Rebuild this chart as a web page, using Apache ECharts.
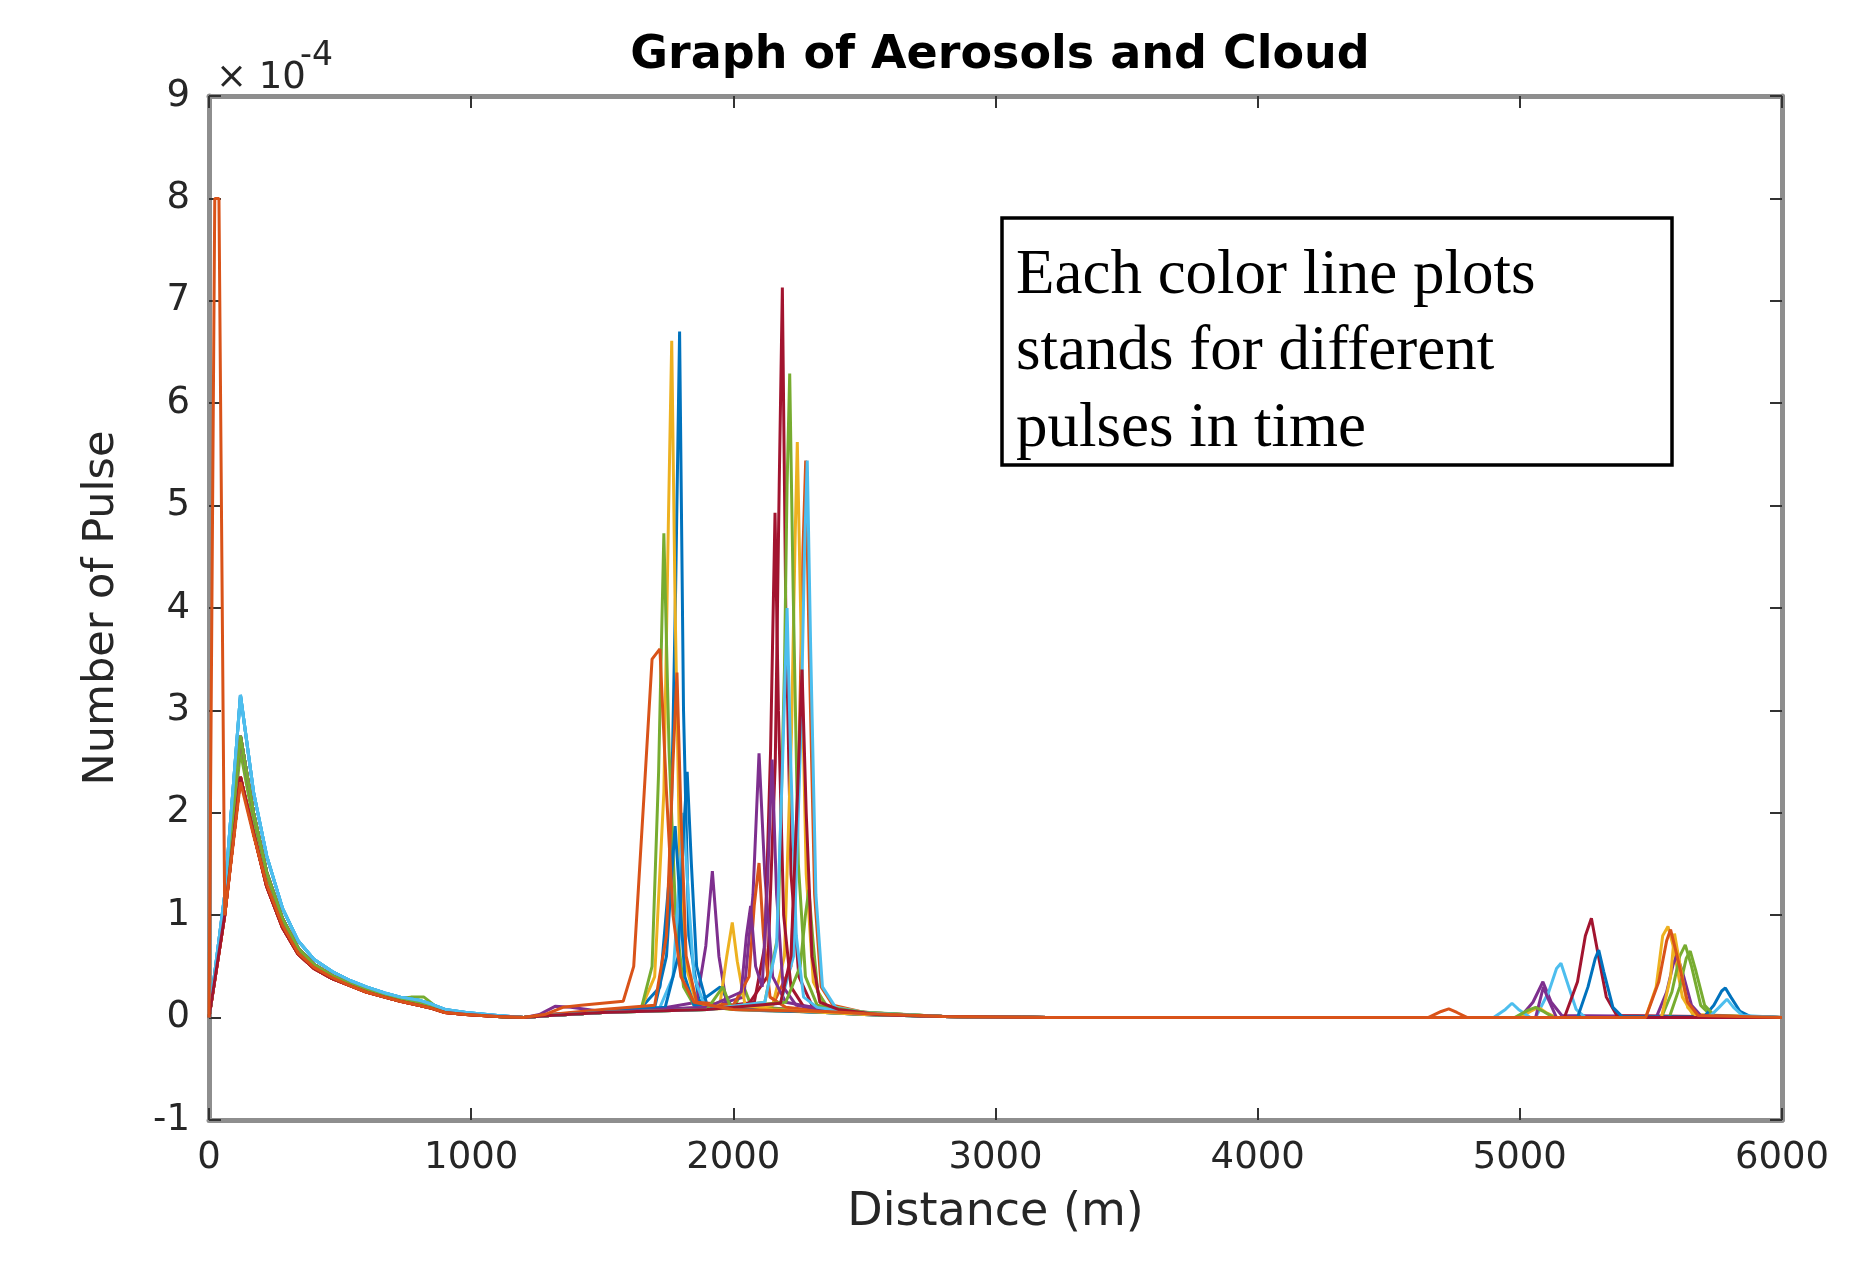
<!DOCTYPE html>
<html>
<head>
<meta charset="utf-8">
<title>Graph of Aerosols and Cloud</title>
<script src="https://cdn.jsdelivr.net/npm/echarts@6/dist/echarts.min.js"></script>
<style>
  html, body { margin: 0; padding: 0; background: #fff; }
  #chart { width: 1867px; height: 1268px; }
</style>
</head>
<body>
<div id="chart"></div>
<script>
// values are in units of 1e-4, distances in metres

// near range profiles (0 - 1200 m)
const nearHigh = [[0,0],[60,1.2],[120,3.15],[170,2.2],[220,1.58],[280,1.07],[340,0.75],[400,0.57],[470,0.45],[540,0.36],[600,0.3],[670,0.24],[730,0.2],[800,0.17],[850,0.13],[900,0.08],[980,0.05],[1100,0.02],[1200,0]];
const nearMid = [[0,0],[60,1.1],[120,2.75],[170,2.0],[220,1.42],[280,0.97],[340,0.68],[400,0.52],[470,0.41],[540,0.33],[600,0.27],[670,0.22],[730,0.18],[800,0.14],[850,0.11],[900,0.07],[980,0.04],[1100,0.01],[1200,0]];
const nearLow = [[0,0],[60,1.0],[120,2.35],[170,1.8],[220,1.28],[280,0.88],[340,0.62],[400,0.48],[470,0.38],[540,0.31],[600,0.25],[670,0.2],[730,0.16],[800,0.12],[850,0.09],[900,0.05],[980,0.03],[1100,0.01],[1200,0]];
const nearBump = [[0,0],[60,1.1],[120,2.6],[170,1.9],[220,1.38],[280,0.94],[340,0.66],[400,0.5],[470,0.4],[540,0.32],[600,0.26],[670,0.22],[730,0.19],[770,0.2],[820,0.2],[870,0.1],[920,0.06],[1000,0.03],[1100,0.01],[1200,0]];
const nearSpike = [[0,0],[22,8.0],[38,8.0],[60,1.0],[120,2.3],[170,1.78],[220,1.3],[280,0.9],[340,0.63],[400,0.49],[470,0.39],[540,0.31],[600,0.25],[670,0.2],[730,0.16],[800,0.12],[850,0.09],[900,0.05],[980,0.03],[1100,0.01],[1200,0]];

// cloud and far range part of every pulse (1200 - 6000 m)
const pulse00 = [[1300,0.02],[1500,0.05],[1650,0.1],[1720,0.3],[1760,1.5],[1780,4.2],[1795,6.7],[1810,3.0],[1830,0.8],[1870,0.15],[1950,0.3],[2000,0.08],[2200,0.06],[2350,0.06],[2500,0.04],[2800,0.01],[3200,0],[6000,0]];
const pulse01 = [[1280,0.03],[1350,0.1],[1420,0.12],[1500,0.14],[1580,0.16],[1620,0.5],[1660,2.2],[1690,3.5],[1720,3.6],[1745,2.2],[1770,1.0],[1800,0.4],[1850,0.15],[2000,0.08],[2350,0.06],[2500,0.04],[2800,0.01],[3200,0],[5480,0],[5530,0.35],[5560,0.75],[5575,0.86],[5600,0.6],[5640,0.15],[5680,0.02],[6000,0]];
const pulse02 = [[1300,0.02],[1500,0.05],[1650,0.1],[1700,0.4],[1735,2.2],[1752,4.8],[1765,6.61],[1778,4.0],[1795,1.6],[1820,0.5],[1860,0.12],[2000,0.08],[2350,0.05],[2500,0.03],[2800,0.01],[3200,0],[5480,0],[5520,0.3],[5545,0.8],[5565,0.89],[5585,0.7],[5620,0.2],[5660,0.03],[6000,0]];
const pulse03 = [[1260,0.03],[1320,0.11],[1380,0.1],[1500,0.06],[1700,0.08],[1860,0.15],[1895,0.7],[1920,1.43],[1945,0.6],[1975,0.12],[2100,0.1],[2350,0.06],[2500,0.03],[2800,0.01],[3200,0],[5000,0],[5050,0.15],[5088,0.35],[5120,0.15],[5160,0.02],[6000,0]];
const pulse04 = [[1300,0.02],[1500,0.05],[1650,0.1],[1690,0.5],[1715,2.4],[1735,4.73],[1755,2.6],[1780,1.0],[1810,0.3],[1850,0.12],[2000,0.08],[2040,0.3],[2070,0.1],[2350,0.06],[2500,0.03],[2800,0.01],[3200,0],[5540,0],[5580,0.25],[5610,0.6],[5631,0.71],[5655,0.5],[5690,0.12],[5730,0.02],[6000,0]];
const pulse05 = [[1300,0.02],[1500,0.05],[1720,0.1],[1770,0.4],[1795,1.4],[1810,2.0],[1828,1.2],[1850,0.4],[1890,0.12],[2050,0.08],[2350,0.05],[2500,0.03],[2800,0.01],[3200,0],[5060,0],[5110,0.25],[5140,0.48],[5157,0.53],[5180,0.35],[5215,0.08],[5250,0],[6000,0]];
const pulse06 = [[1300,0.02],[1500,0.05],[1800,0.08],[2050,0.1],[2130,0.4],[2160,2.5],[2175,5.2],[2187,7.13],[2200,4.0],[2220,1.4],[2250,0.4],[2300,0.12],[2400,0.08],[2550,0.04],[2800,0.01],[3200,0],[5170,0],[5220,0.35],[5250,0.8],[5273,0.97],[5300,0.6],[5330,0.2],[5370,0.02],[6000,0]];
const pulse07 = [[1300,0.02],[1500,0.05],[1740,0.1],[1790,0.6],[1810,1.8],[1824,2.4],[1840,1.5],[1860,0.5],[1900,0.12],[2100,0.08],[2350,0.05],[2500,0.03],[2800,0.01],[3200,0],[5700,0],[5740,0.12],[5770,0.26],[5784,0.29],[5805,0.2],[5840,0.06],[5880,0.01],[6000,0]];
const pulse08 = [[1300,0.03],[1500,0.06],[1900,0.09],[2150,0.12],[2220,0.5],[2250,2.5],[2266,4.6],[2276,5.44],[2290,3.5],[2310,1.2],[2335,0.3],[2380,0.12],[2500,0.05],[2800,0.01],[3200,0],[4650,0],[4700,0.06],[4729,0.085],[4760,0.05],[4800,0],[6000,0]];
const pulse09 = [[1300,0.02],[1500,0.05],[1900,0.08],[2150,0.12],[2195,0.6],[2222,2.8],[2235,4.6],[2244,5.62],[2258,3.8],[2278,1.4],[2305,0.35],[2350,0.12],[2500,0.05],[2800,0.01],[3200,0],[5000,0],[5040,0.06],[5070,0.1],[5100,0.05],[5140,0],[6000,0]];
const pulse10 = [[1300,0.03],[1500,0.06],[1900,0.1],[2040,0.2],[2075,1.2],[2098,2.58],[2120,1.4],[2150,0.4],[2200,0.15],[2350,0.08],[2500,0.04],[2800,0.01],[3200,0],[5520,0],[5560,0.25],[5585,0.52],[5599,0.61],[5620,0.45],[5655,0.12],[5690,0.02],[6000,0]];
const pulse11 = [[1300,0.02],[1500,0.05],[1900,0.08],[2120,0.15],[2170,0.8],[2195,3.4],[2205,5.2],[2215,6.29],[2228,4.2],[2248,1.5],[2275,0.4],[2320,0.12],[2450,0.06],[2800,0.01],[3200,0],[5570,0],[5610,0.3],[5635,0.58],[5650,0.65],[5672,0.45],[5705,0.12],[5745,0.01],[6000,0]];
const pulse12 = [[1300,0.02],[1500,0.05],[1900,0.08],[2180,0.14],[2230,0.6],[2258,2.8],[2272,4.6],[2282,5.44],[2295,3.6],[2315,1.2],[2340,0.3],[2390,0.1],[2500,0.05],[2800,0.01],[3200,0],[4900,0],[4945,0.08],[4970,0.14],[4995,0.08],[5040,0],[5720,0],[5760,0.1],[5790,0.18],[5815,0.1],[5850,0.02],[6000,0]];
const pulse13 = [[1300,0.02],[1500,0.05],[1900,0.09],[2080,0.15],[2120,0.7],[2142,2.6],[2159,4.93],[2172,3.0],[2192,1.0],[2220,0.3],[2270,0.1],[2400,0.06],[2550,0.03],[2800,0.01],[3200,0],[6000,0]];
const pulse14 = [[1300,0.02],[1500,0.05],[1700,0.1],[1745,0.6],[1765,1.4],[1778,1.87],[1795,1.2],[1815,0.4],[1850,0.12],[2050,0.08],[2350,0.05],[2500,0.03],[2800,0.01],[3200,0],[5220,0],[5260,0.3],[5288,0.58],[5301,0.66],[5320,0.45],[5355,0.1],[5390,0.01],[6000,0]];
const pulse15 = [[1300,0.03],[1500,0.08],[1700,0.12],[1745,0.8],[1770,2.5],[1785,3.37],[1800,2.0],[1820,0.6],[1860,0.15],[2000,0.12],[2060,0.4],[2080,1.1],[2098,1.51],[2115,0.8],[2140,0.2],[2200,0.1],[2350,0.06],[2500,0.04],[2800,0.01],[3200,0],[6000,0]];
const pulse16 = [[1300,0.02],[1500,0.05],[1850,0.08],[1950,0.15],[1975,0.6],[1996,0.93],[2015,0.55],[2045,0.12],[2150,0.08],[2350,0.05],[2500,0.03],[2800,0.01],[3200,0],[5540,0],[5575,0.4],[5590,0.82],[5605,0.6],[5640,0.1],[5680,0],[6000,0]];
const pulse17 = [[1300,0.02],[1500,0.05],[1900,0.1],[2030,0.25],[2050,0.8],[2066,1.09],[2085,0.5],[2110,0.3],[2130,1.3],[2148,2.52],[2165,1.2],[2190,0.3],[2240,0.12],[2400,0.06],[2550,0.03],[2800,0.01],[3200,0],[5060,0],[5090,0.3],[5105,0.2],[5140,0],[6000,0]];
const pulse18 = [[1300,0.02],[1500,0.05],[1900,0.08],[1960,0.3],[1990,0.1],[2200,0.15],[2255,0.5],[2275,1.0],[2288,1.25],[2302,0.8],[2322,0.25],[2360,0.1],[2500,0.05],[2800,0.01],[3200,0],[4980,0],[5030,0.07],[5060,0.1],[5090,0.06],[5130,0],[6000,0]];
const pulse19 = [[1300,0.02],[1500,0.05],[1900,0.08],[2120,0.15],[2165,0.7],[2188,2.5],[2205,4.0],[2220,2.4],[2240,0.8],[2268,0.2],[2320,0.1],[2450,0.05],[2800,0.01],[3200,0],[6000,0]];
const pulse20 = [[1300,0.02],[1500,0.05],[1900,0.08],[2180,0.14],[2220,0.6],[2245,2.2],[2262,3.4],[2278,2.0],[2300,0.6],[2330,0.15],[2400,0.08],[2550,0.03],[2800,0.01],[3200,0],[6000,0]];

const pulses = [pulse00, pulse01, pulse02, pulse03, pulse04, pulse05, pulse06, pulse07, pulse08, pulse09, pulse10,
  pulse11, pulse12, pulse13, pulse14, pulse15, pulse16, pulse17, pulse18, pulse19, pulse20];
const nearOfPulse = [nearMid, nearSpike, nearLow, nearMid, nearBump, nearHigh, nearLow, nearHigh, nearLow, nearMid, nearMid,
  nearMid, nearHigh, nearLow, nearMid, nearLow, nearMid, nearMid, nearMid, nearHigh, nearLow];

const xTicks = [0, 1000, 2000, 3000, 4000, 5000, 6000];
const yTicks = [-1, 0, 1, 2, 3, 4, 5, 6, 7, 8, 9];

// matlab default line colours
const lineColors = ['#0072BD', '#D95319', '#EDB120', '#7E2F8E', '#77AC30', '#4DBEEE', '#A2142F'];

document.addEventListener('DOMContentLoaded', function () {
  let chart = echarts.init(document.querySelector('#chart'), null, { renderer: 'canvas' });

  let font = 'DejaVu Sans';
  let axisGray = '#8e8e8e';
  let textGray = '#262626';

  let series = pulses.map(function (pulse, i) {
    return {
      type: 'line',
      name: 'pulse ' + (i + 1),
      data: nearOfPulse[i].concat(pulse),
      showSymbol: false,
      symbol: 'none',
      z: i == 1 ? 5 : 2,
      lineStyle: { width: 3, color: lineColors[i % 7] },
      itemStyle: { color: lineColors[i % 7] },
      animation: false
    };
  });

  let plain = function (v) { return String(v); };

  let baseX = {
    type: 'value',
    min: xTicks[0],
    max: xTicks[xTicks.length - 1],
    interval: 1000,
    splitLine: { show: false },
    axisLine: { show: true, onZero: false, lineStyle: { color: axisGray, width: 5 } },
    axisTick: { show: true, inside: true, length: 12, lineStyle: { color: '#333', width: 2 } }
  };
  let baseY = {
    type: 'value',
    min: yTicks[0],
    max: yTicks[yTicks.length - 1],
    interval: 1,
    splitLine: { show: false },
    axisLine: { show: true, onZero: false, lineStyle: { color: axisGray, width: 5 } },
    axisTick: { show: true, inside: true, length: 12, lineStyle: { color: '#333', width: 2 } }
  };

  let option = {
    backgroundColor: '#fff',
    animation: false,
    title: {
      text: 'Graph of Aerosols and Cloud',
      left: 995,
      top: 28,
      textAlign: 'center',
      textStyle: { fontFamily: font, fontWeight: 'bold', fontSize: 46, color: '#000' }
    },
    grid: { left: 209, right: 85, top: 96, bottom: 148, containLabel: false },
    xAxis: [
      Object.assign({}, baseX, {
        position: 'bottom',
        name: 'Distance (m)',
        nameLocation: 'middle',
        nameGap: 70,
        nameTextStyle: { fontFamily: font, fontSize: 46, color: textGray },
        axisLabel: { fontFamily: font, fontSize: 37, color: textGray, margin: 20, formatter: plain }
      }),
      Object.assign({}, baseX, { position: 'top', axisLabel: { show: false } })
    ],
    yAxis: [
      Object.assign({}, baseY, {
        position: 'left',
        name: 'Number of Pulse',
        nameLocation: 'middle',
        nameGap: 86,
        nameTextStyle: { fontFamily: font, fontSize: 43, color: textGray },
        axisLabel: { fontFamily: font, fontSize: 37, color: textGray, margin: 19, formatter: plain }
      }),
      Object.assign({}, baseY, { position: 'right', axisLabel: { show: false } })
    ],
    series: series,
    graphic: [
      {
        type: 'text',
        left: 216,
        top: 60,
        style: { text: '\u00d7 10', fontFamily: font, fontSize: 37, fill: textGray }
      },
      {
        type: 'text',
        left: 300,
        top: 40,
        style: { text: '-4', fontFamily: font, fontSize: 33, fill: textGray }
      },
      {
        type: 'rect',
        shape: { x: 1002, y: 218, width: 670, height: 247 },
        style: { fill: '#fff', stroke: '#000', lineWidth: 3.5 },
        z: 10
      },
      {
        type: 'text',
        x: 1016,
        y: 238,
        z: 11,
        style: {
          text: 'Each color line plots\nstands for different\npulses in time',
          fontFamily: 'Liberation Serif',
          fontSize: 63,
          lineHeight: 76.5,
          fill: '#000',
          verticalAlign: 'top'
        }
      }
    ]
  };

  chart.setOption(option);
});
</script>
</body>
</html>
